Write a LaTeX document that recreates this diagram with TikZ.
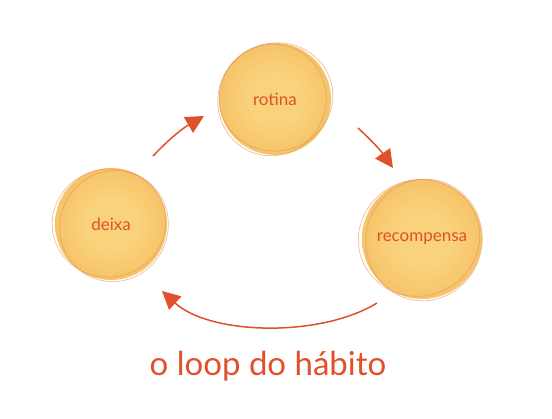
\documentclass[tikz,border=0pt]{standalone}
\usepackage{fontspec}
\setmainfont{Lato}
\usetikzlibrary{arrows.meta}
\definecolor{HabitoRed}{HTML}{E0502A}
\definecolor{HabitoGold}{HTML}{F0A846}
\definecolor{HabitoCream}{HTML}{F9D27C}
\definecolor{HabitoRim}{HTML}{E3925A}
\pgfdeclareradialshading{bubbleshade}{\pgfpoint{0bp}{0bp}}{%
  color(0bp)=(HabitoCream); color(12bp)=(HabitoCream);
  color(30bp)=(HabitoCream!50!HabitoGold); color(44bp)=(HabitoGold);
  color(50bp)=(HabitoGold!85!white)}
\begin{document}
\begin{tikzpicture}[
  x=1pt,
  y=-1pt,
  bubble/.style={
    circle,
    inner sep=0pt,
    minimum size=112pt,
    shading=bubbleshade,
    text=HabitoRed,
    font=\fontsize{17}{19}\selectfont
  },
  rim/.style={draw=HabitoRim, line width=0.7pt, opacity=0.6},
  arrow/.style={-{Triangle[length=18pt,width=18pt]}, line width=1.5pt, draw=HabitoRed}
]
\useasboundingbox (0,0) rectangle (552,419);

\node[bubble] (rotina) at (275,99) {rotina};
\node[bubble] (deixa) at (111,224) {deixa};
\node[bubble, minimum size=120pt] (recompensa) at (422,239) {recompensa};

% sketchy rims round the bubbles
\draw[rim] ([shift={(1,-2)}]rotina.center) circle[x radius=57, y radius=54, rotate=15];
\draw[rim] ([shift={(-3,1)}]rotina.center) circle[x radius=54, y radius=56, rotate=-20];
\draw[rim] ([shift={(-2,-1)}]deixa.center) circle[x radius=57, y radius=54, rotate=10];
\draw[rim] ([shift={(3,2)}]deixa.center) circle[x radius=54, y radius=56, rotate=-25];
\draw[rim] ([shift={(-3,-1)}]recompensa.center) circle[x radius=61, y radius=58, rotate=20];
\draw[rim] ([shift={(2,1)}]recompensa.center) circle[x radius=58, y radius=61, rotate=-15];

\coordinate (deixa-out) at (153,156);
\coordinate (rotina-in) at (204,116);
\coordinate (rotina-out) at (358,128);
\coordinate (recompensa-in) at (393,168);
\coordinate (recompensa-out) at (377,303);
\coordinate (deixa-in) at (162,291);

\draw[arrow] (deixa-out) to[bend left=8] (rotina-in);
\draw[arrow] (rotina-out) to[bend left=6] (recompensa-in);
\draw[arrow] (recompensa-out) .. controls (320,338) and (210,335) .. (deixa-in);

\node[text=HabitoRed, font=\fontsize{33}{36}\selectfont] (titulo) at (268,366) {o loop do hábito};
\end{tikzpicture}
\end{document}
